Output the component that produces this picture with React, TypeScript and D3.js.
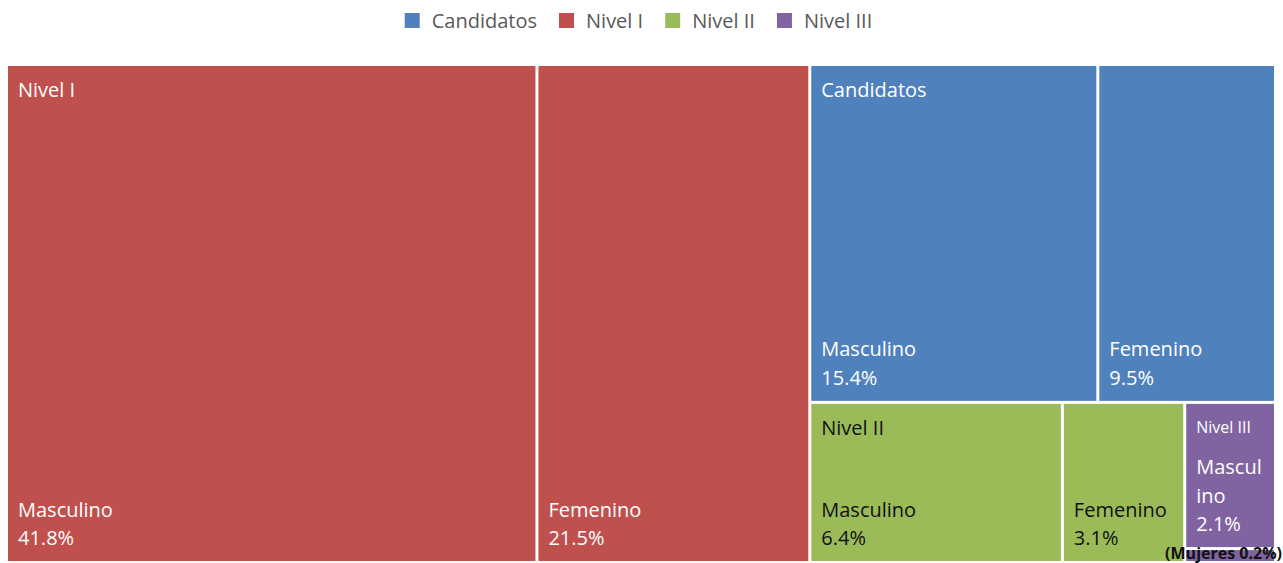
import React, { useEffect, useRef } from 'react';
import * as d3 from 'd3';

const groups = ['Candidatos', 'Nivel I', 'Nivel II', 'Nivel III'];
const groupColors = ['#4f81bd', '#c0504d', '#9bbb59', '#8064a2'];
const groupTextColors = ['#ffffff', '#ffffff', '#111111', '#ffffff'];
const sexes = ['Masculino', 'Femenino'];
const candidatosValues = [15.4, 9.5];
const nivel1Values = [41.8, 21.5];
const nivel2Values = [6.4, 3.1];
const nivel3Values = [2.1, 0.2];
const groupValues = [candidatosValues, nivel1Values, nivel2Values, nivel3Values];

const W = 1283;
const H = 563;
const FONT = "'Open Sans', 'Liberation Sans', sans-serif";

interface Leaf { name: string; value?: number; children?: Leaf[]; gi?: number }

const App: React.FC = () => {
  const svgRef = useRef<SVGSVGElement>(null);

  useEffect(() => {
    const svg = d3.select(svgRef.current);
    svg.selectAll('*').remove();

    const area = { x0: 8, y0: 66, x1: 1274, y1: 561 };

    const data: Leaf = {
      name: 'root',
      children: groups.map((g, gi) => ({
        name: g,
        gi,
        children: sexes.map((s, si) => ({ name: s, gi, value: groupValues[gi][si] })),
      })),
    };

    const root = d3.hierarchy<Leaf>(data)
      .sum(d => d.value ?? 0)
      .sort((a, b) => (b.value ?? 0) - (a.value ?? 0));

    d3.treemap<Leaf>()
      .tile(d3.treemapSquarify)
      .size([area.x1 - area.x0, area.y1 - area.y0])
      .paddingInner(3)
      .round(false)(root);

    const g = svg.append('g').attr('transform', `translate(${area.x0},${area.y0})`);
    const leaves = root.leaves() as d3.HierarchyRectangularNode<Leaf>[];

    // cells
    g.selectAll('rect')
      .data(leaves)
      .join('rect')
      .attr('x', d => d.x0)
      .attr('y', d => d.y0)
      .attr('width', d => Math.max(0, d.x1 - d.x0))
      .attr('height', d => Math.max(0, d.y1 - d.y0))
      .attr('fill', d => groupColors[d.data.gi ?? 0]);

    // leaf labels (bottom-left)
    const fs = 20;
    const measure = svg.append('text').style('font-family', FONT).style('font-size', `${fs}px`).attr('opacity', 0);
    const textW = (s: string) => { measure.text(s); return (measure.node() as SVGTextElement).getComputedTextLength(); };

    leaves.forEach(d => {
      const w = d.x1 - d.x0;
      const h = d.y1 - d.y0;
      if (h < 30) return;
      const pad = 10;
      const avail = w - pad * 2 - 1;
      const lines: string[] = [];
      let cur = '';
      for (const ch of d.data.name) {
        if (cur && textW(cur + ch) > avail) { lines.push(cur); cur = ch; } else cur += ch;
      }
      lines.push(cur);
      lines.push(`${d3.format('.1f')(d.value ?? 0)}%`);
      const lh = 28.5;
      const base = d.y1 - 16;
      const fill = groupTextColors[d.data.gi ?? 0];
      lines.forEach((ln, i) => {
        g.append('text')
          .attr('x', d.x0 + pad)
          .attr('y', base - (lines.length - 1 - i) * lh)
          .attr('fill', fill)
          .style('font-family', FONT)
          .style('font-size', `${fs}px`)
          .text(ln);
      });
    });

    // group labels (top-left)
    (root.children as d3.HierarchyRectangularNode<Leaf>[]).forEach(p => {
      const w = p.x1 - p.x0;
      const small = w < 120;
      g.append('text')
        .attr('x', p.x0 + 10)
        .attr('y', p.y0 + (small ? 29 : 31))
        .attr('fill', groupTextColors[p.data.gi ?? 0])
        .style('font-family', FONT)
        .style('font-size', small ? '16px' : `${fs}px`)
        .text(p.data.name);
    });

    // tiny-cell note
    const tiny = leaves.find(d => d.y1 - d.y0 < 30);
    if (tiny) {
      svg.append('text')
        .attr('x', W - 1)
        .attr('y', area.y0 + tiny.y1 - 2)
        .attr('text-anchor', 'end')
        .attr('fill', '#111')
        .style('font-family', FONT)
        .style('font-size', '16px')
        .style('font-weight', 'bold')
        .text(`(Mujeres ${d3.format('.1f')(tiny.value ?? 0)}%)`);
    }

    // legend
    const lg = svg.append('g');
    let lx = 0;
    groups.forEach((name, i) => {
      const item = lg.append('g').attr('transform', `translate(${lx},0)`);
      item.append('rect').attr('x', 0).attr('y', 13).attr('width', 15).attr('height', 15).attr('fill', groupColors[i]);
      const t = item.append('text')
        .attr('x', 27)
        .attr('y', 28)
        .attr('fill', '#595959')
        .style('font-family', FONT)
        .style('font-size', '20px')
        .text(name);
      lx += 27 + (t.node() as SVGTextElement).getComputedTextLength() + 22;
    });
    const totalW = lx - 22;
    lg.attr('transform', `translate(${(W - totalW) / 2 - 3},0)`);

    measure.remove();
  }, []);

  return (
    <svg
      ref={svgRef}
      width={W}
      height={H}
      style={{ position: 'absolute', left: 0, top: 0, background: '#ffffff' }}
    />
  );
};

export default App;
